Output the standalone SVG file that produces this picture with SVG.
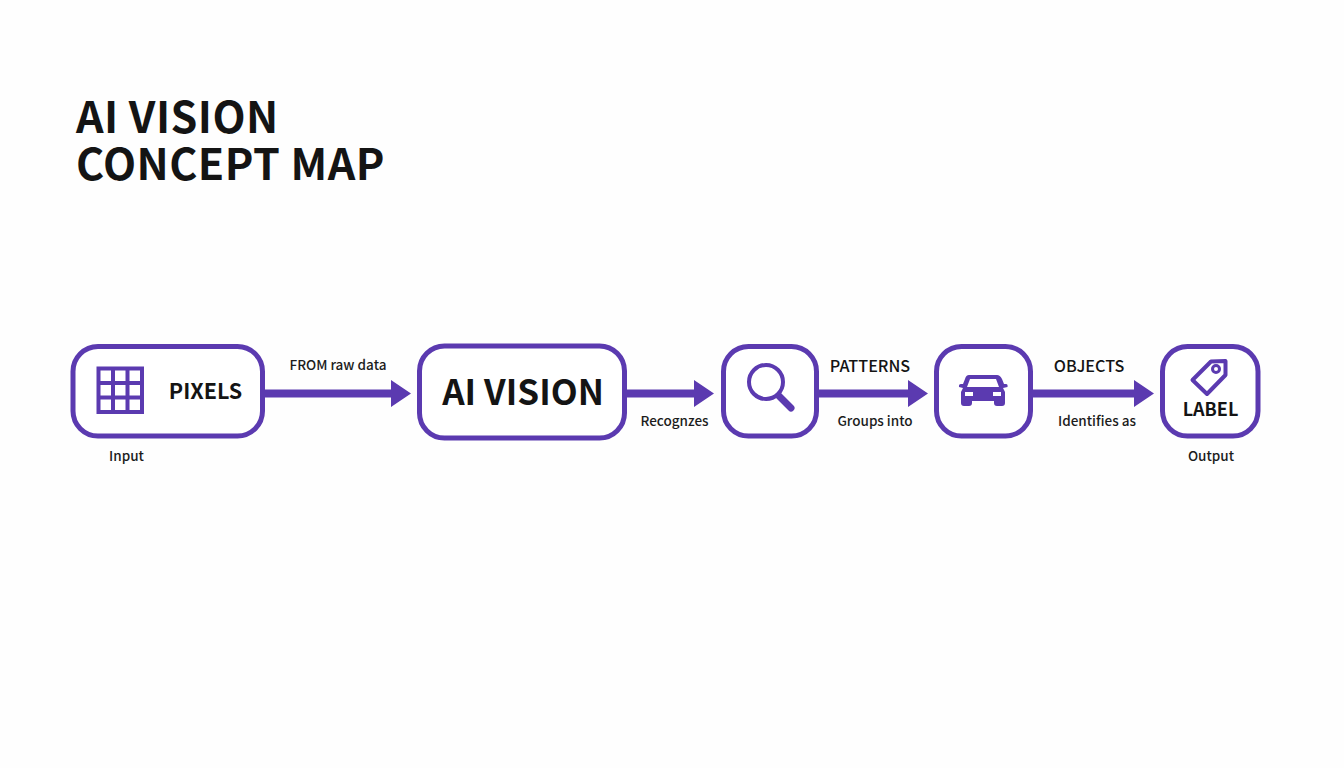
<svg xmlns="http://www.w3.org/2000/svg" width="1344" height="768" viewBox="0 0 1344 768">
<style>
text{font-family:"Noto Sans CJK SC","Noto Sans",sans-serif;font-weight:700;fill:#141414}
.box{fill:#fff;stroke:#5b3ab0;stroke-width:5}
.ink{fill:#5b3ab0}
.line{fill:none;stroke:#5b3ab0;stroke-width:4}
.lbl{font-size:13.500px;font-weight:500;text-anchor:middle;fill:#1c1c1c}
.cap{font-size:16.200px;font-weight:500;text-anchor:middle}
.ttl{font-size:43px;letter-spacing:.45px}
</style>
<rect width="1344" height="768" fill="#fefefe"/>
<g id="title"><text class="ttl" x="76" y="132.500">AI VISION</text><text class="ttl" x="76" y="179.500">CONCEPT MAP</text></g>
<g id="connectors">
<path class="ink" d="M264 389.500H391V380L411 393.500L391 407V397.500H264Z"/>
<path class="ink" d="M626 389.500H694V380L714 393.500L694 407V397.500H626Z"/>
<path class="ink" d="M818 389.500H908V380L928 393.500L908 407V397.500H818Z"/>
<path class="ink" d="M1032 389.500H1134V380L1154 393.500L1134 407V397.500H1032Z"/>
<text class="lbl" x="338" y="370">FROM raw data</text>
<text class="lbl" x="674.500" y="426">Recognzes</text>
<text class="cap" x="870" y="372">PATTERNS</text>
<text class="lbl" x="875" y="426">Groups into</text>
<text class="cap" x="1089" y="372">OBJECTS</text>
<text class="lbl" x="1097" y="426">Identifies as</text>
</g>
<g id="pixels">
<rect class="box" x="73" y="346.500" width="189.500" height="89.500" rx="25"/>
<path class="line" d="M98.500 368.500H142V412H98.500ZM98.500 383H142M98.500 397.500H142M113 368.500V412M127.500 368.500V412"/>
<text x="205.500" y="399" font-size="21.500" text-anchor="middle">PIXELS</text>
<text class="lbl" x="126.500" y="461">Input</text>
</g>
<g id="ai-vision">
<rect class="box" x="419.500" y="346" width="205" height="92" rx="25"/>
<text x="523" y="404.500" font-size="35" text-anchor="middle">AI VISION</text>
</g>
<g id="search">
<rect class="box" x="723.500" y="346.500" width="93" height="89.500" rx="25"/>
<circle cx="766" cy="382" r="17" fill="none" stroke="#5b3ab0" stroke-width="4"/>
<path d="M779 396L791 408" fill="none" stroke="#5b3ab0" stroke-width="7" stroke-linecap="round"/>
</g>
<g id="car">
<rect class="box" x="936.500" y="346.500" width="94" height="89.500" rx="25"/>
<path class="ink" fill-rule="evenodd" d="M969 375H997Q1000 375 1002 379L1004 384H1006Q1008 384 1007.500 387L1003 388L1005 392V403Q1005 406 1002 406H997Q994 406 994 403V401H972V403Q972 406 969 406H964Q961 406 961 403V392L963 388L959 387Q958.500 384 961 384H963L965 379Q966 375 969 375ZM970 379L967 387H999L996 379ZM965 392V396H973V392ZM993 392V396H1001V392Z"/>
</g>
<g id="label">
<rect class="box" x="1162.500" y="346.500" width="95.500" height="89.500" rx="25"/>
<path d="M1192.500 380L1211 361.500L1225.500 361L1225.500 375L1207 394Z" fill="none" stroke="#5b3ab0" stroke-width="4" stroke-linejoin="round"/>
<circle cx="1216" cy="369" r="3.500" fill="none" stroke="#5b3ab0" stroke-width="3"/>
<text x="1210.500" y="416" font-size="18" text-anchor="middle">LABEL</text>
<text class="lbl" x="1211" y="461">Output</text>
</g>
</svg>
